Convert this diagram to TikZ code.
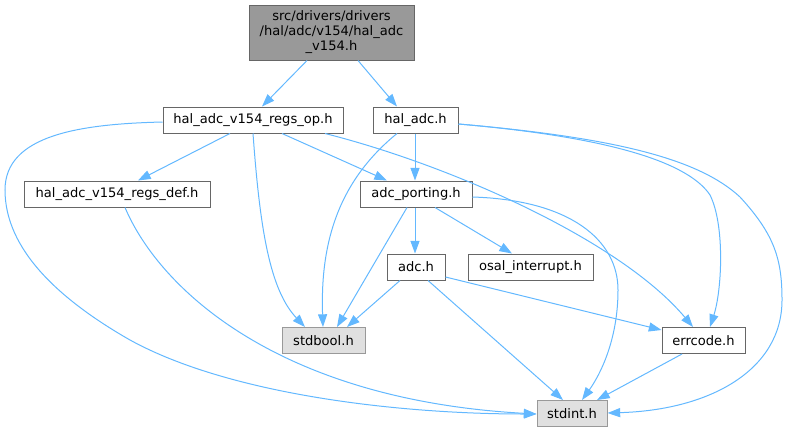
\documentclass[tikz,border=0pt]{standalone}
\usepackage{fontspec}
\setmainfont{DejaVu Sans}
\usetikzlibrary{arrows.meta}
\definecolor{edgec}{HTML}{63B8FF}
\definecolor{boxline}{HTML}{666666}
\definecolor{extfill}{HTML}{E0E0E0}
\definecolor{extline}{HTML}{999999}
\definecolor{rootfill}{HTML}{999999}
\begin{document}
\begin{tikzpicture}[x=0.75pt,y=-0.75pt,
  box/.style={draw=boxline, fill=white, line width=0.75pt, inner sep=0pt,
    minimum height=19.5pt, font=\fontsize{9.8}{11.25}\selectfont, align=center},
  ext/.style={box, draw=extline, fill=extfill},
  rootbox/.style={box, fill=rootfill, minimum height=41.25pt},
  dep/.style={draw=edgec, line width=0.75pt, -{Triangle[length=9.5pt,width=6.8pt]}}]
\useasboundingbox (0,0) rectangle (787,432);

\node[rootbox, minimum width=123.75pt] (root) at (331.5,32.5)
  {src/drivers/drivers\\/hal/adc/v154/hal\_adc\\\_v154.h};
\node[box, minimum width=135pt] (regs_op) at (253,120) {hal\_adc\_v154\_regs\_op.h};
\node[box, minimum width=63.75pt] (hal_adc) at (415.5,120) {hal\_adc.h};
\node[box, minimum width=139.5pt] (regs_def) at (117,194) {hal\_adc\_v154\_regs\_def.h};
\node[box, minimum width=84pt] (adc_porting) at (416,194) {adc\_porting.h};
\node[box, minimum width=43.5pt] (adc) at (416,267) {adc.h};
\node[box, minimum width=93.75pt] (osal) at (530.5,267) {osal\_interrupt.h};
\node[ext, minimum width=62.25pt] (stdbool) at (323.5,340.5) {stdbool.h};
\node[box, minimum width=62.25pt] (errcode) at (703.5,340.5) {errcode.h};
\node[ext, minimum width=52.5pt] (stdint) at (572,413.5) {stdint.h};

\draw[dep] (307,0 |- root.south) -- (262,0 |- regs_op.north);
\draw[dep] (358,0 |- root.south) -- (397,0 |- hal_adc.north);

\draw[dep] (230,0 |- regs_op.south) -- (138,0 |- regs_def.north);
\draw[dep] (282,0 |- regs_op.south) -- (387,0 |- adc_porting.north);
\draw[dep] (253,0 |- regs_op.south) .. controls (260,230) and (270,290) .. (305,0 |- stdbool.north);
\draw[dep] (325,0 |- regs_op.south) .. controls (450,165) and (620,240) .. (693,0 |- errcode.north);
\draw[dep] (regs_op.west |- 0,122) .. controls (80,124) and (5,135) .. (5,190)
  .. controls (5,250) and (60,300) .. (130,340)
  .. controls (230,395) and (400,414) .. (stdint.west |- 0,414);
\draw[dep] (125,0 |- regs_def.south) .. controls (160,290) and (280,400) .. (stdint.west |- 0,414);

\draw[dep] (415,0 |- hal_adc.south) -- (415,0 |- adc_porting.north);
\draw[dep] (397,0 |- hal_adc.south) .. controls (340,180) and (320,240) .. (323,0 |- stdbool.north);
\draw[dep] (hal_adc.east |- 0,124) .. controls (620,138) and (690,165) .. (710,195)
  .. controls (725,225) and (722,290) .. (710,0 |- errcode.north);
\draw[dep] (hal_adc.east |- 0,124) .. controls (620,138) and (700,160) .. (740,197)
  .. controls (775,235) and (782,260) .. (782,300)
  .. controls (782,370) and (710,410) .. (stdint.east |- 0,413);

\draw[dep] (415,0 |- adc_porting.south) -- (415,0 |- adc.north);
\draw[dep] (435,0 |- adc_porting.south) -- (512,0 |- osal.north);
\draw[dep] (407,0 |- adc_porting.south) -- (337,0 |- stdbool.north);
\draw[dep] (adc_porting.east |- 0,197) .. controls (570,200) and (618,240) .. (618,290)
  .. controls (618,340) and (600,375) .. (582,0 |- stdint.north);

\draw[dep] (400,0 |- adc.south) -- (347,0 |- stdbool.north);
\draw[dep] (428,0 |- adc.south) -- (563,0 |- stdint.north);
\draw[dep] (adc.east |- 0,277) -- (errcode.west |- 0,330);

\draw[dep] (682,0 |- errcode.south) -- (597,0 |- stdint.north);
\end{tikzpicture}
\end{document}
